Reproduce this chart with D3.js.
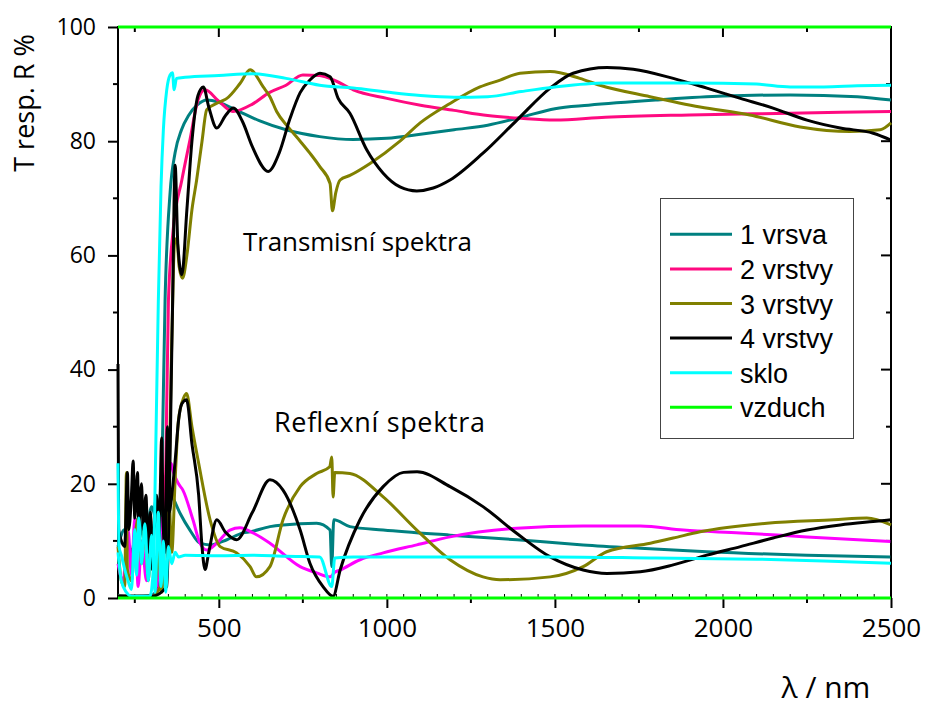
<!DOCTYPE html>
<html>
<head>
<meta charset="utf-8">
<script src="https://cdn.jsdelivr.net/npm/d3@7"></script>
<style>
  body { margin: 0; background: #fff; }
  svg { display: block; }
</style>
</head>
<body>
<div id="chart"></div>
<script>
// wavelength range (nm) and value range (%)
var X_DOMAIN = [200, 2500];
var Y_DOMAIN = [0, 100];
var X_TICKS = [500, 1000, 1500, 2000, 2500];
var Y_TICKS = [0, 20, 40, 60, 80, 100];

var seriesNames = ["1 vrsva", "2 vrstvy", "3 vrstvy", "4 vrstvy", "sklo", "vzduch"];
var seriesColors = ["#008080", "#ff0a80", "#808000", "#000000", "#00ffff", "#00ff00"];
var reflColors = ["#008080", "#ff00ff", "#808000", "#000000", "#00ffff", "#00ff00"];

// transmission spectra [nm, %]
var T1 = [[200,0.5],[250,0.3],[300,0.5],[320,2],[330,20],[340,52],[355,71],[370,78],[389,82],[410,84.5],[435,86.3],[465,87.2],[500,86.8],[550,85.5],[620,83.6],[700,82],[800,80.8],[900,80.3],[1000,80.5],[1100,81.2],[1200,82],[1300,82.8],[1400,84.2],[1500,85.7],[1600,86.3],[1800,87.2],[2000,87.9],[2200,88.1],[2400,87.8],[2500,87.2]];
var T2 = [[200,0.3],[300,0.3],[330,3],[340,15],[350,52],[364,64.4],[390,73.2],[414,80.2],[438,87.2],[459,89],[500,87],[542,85.2],[600,86.5],[650,88.5],[700,89.8],[750,91.6],[800,91.5],[850,90.5],[900,89],[1000,87.5],[1100,86.3],[1200,85.4],[1300,84.5],[1400,84],[1500,83.7],[1650,84.2],[1900,84.6],[2200,84.9],[2500,85.2]];
var T3 = [[200,0.3],[300,0.3],[345,5],[360,45],[368,62],[375,63],[382,58],[392,56],[405,60],[420,68],[434,73.2],[450,80],[464,85.5],[504,86.9],[524,87.5],[563,90.1],[593,92.5],[632,89.5],[652,87.8],[672,85.2],[706,82.5],[742,80],[771,77.9],[801,75.5],[831,72.6],[838,67.8],[848,71],[861,73.2],[890,74],[950,76.1],[1039,80],[1099,83.2],[1188,86.6],[1277,89.5],[1337,90.7],[1396,91.9],[1486,92.2],[1574,91],[1634,89.8],[1783,87.8],[1932,86],[2080,84.6],[2230,82.5],[2378,81.7],[2468,82],[2500,83.2]];
var T4 = [[200,0.3],[300,0.3],[345,2],[362,50],[370,75.8],[378,62],[390,56.6],[405,68],[420,80],[438,88],[454,89.5],[470,86],[494,82.3],[520,84.5],[543,85.8],[570,83.5],[600,79],[647,74.7],[680,78],[712,84],[742,88.5],[771,90.7],[801,91.9],[831,91.3],[855,87.5],[890,84.9],[940,78.5],[989,74.4],[1039,72],[1089,71.3],[1138,71.8],[1188,73.2],[1286,77.9],[1387,83.7],[1486,89.3],[1554,91.9],[1655,92.9],[1733,92.6],[1852,91],[1952,89.3],[2052,87.5],[2149,85.8],[2250,83.7],[2349,82.3],[2447,81.4],[2500,80.2]];
var T5 = [[200,8],[210,3],[225,1],[240,0.3],[295,0.3],[305,5],[312,25],[320,52],[328,72],[335,82],[345,89],[355,91.6],[362,92],[367,89],[374,91],[400,91.2],[500,91.5],[600,91.8],[700,91],[800,89.8],[900,89.3],[1000,88.6],[1100,88],[1200,87.7],[1300,87.8],[1400,88.7],[1500,89.5],[1650,90.2],[1900,90.2],[2100,90],[2200,89.5],[2300,89.5],[2400,89.7],[2500,89.8]];
var T6 = [[200,100],[2500,100]];

// reflection spectra [nm, %]
var R1 = [[200,9],[220,12],[240,8],[260,14],[280,10],[300,16],[320,12],[330,22],[340,20],[360,18],[385,14.8],[414,11.9],[444,9.6],[474,9.3],[524,10.2],[572,11.4],[593,11.6],[652,12.5],[691,12.8],[791,13.1],[831,11.9],[836,5.5],[842,13.7],[890,12.5],[989,11.9],[1188,11],[1387,10.2],[1456,9.9],[1584,9.3],[1754,8.7],[1952,8.1],[2250,7.5],[2498,7.2]];
var R2 = [[200,6],[215,3],[230,12],[240,4],[250,14],[260,2],[270,10],[285,3],[300,9],[315,2],[330,14],[340,8],[350,20],[358,23.6],[365,22],[380,20],[393,18.9],[423,13.7],[444,9.6],[464,8.4],[494,9.6],[533,11.9],[563,12.3],[602,11.4],[652,9.6],[742,5.5],[791,4.4],[831,3.7],[845,4.5],[861,4.9],[920,6.7],[989,7.9],[1089,9.3],[1188,10.7],[1387,12.2],[1584,12.6],[1754,12.6],[1882,11.9],[2052,11.4],[2250,10.7],[2498,9.9]];
var R3 = [[200,9],[210,3],[220,2],[225,22],[228,5],[240,3],[250,10],[260,14],[270,6],[280,13],[290,3],[300,12],[310,2],[320,8],[330,1],[340,12],[350,20],[360,8],[370,20.7],[380,31.2],[395,35],[404,35.8],[420,30],[440,23.6],[474,13.7],[504,9],[553,7.9],[593,5.5],[612,3.7],[652,5.5],[691,13.7],[742,19.5],[791,21.8],[830,23],[836,24.7],[840,17.7],[845,22],[890,21.8],[989,17.7],[1089,11.9],[1188,6.7],[1286,3.7],[1337,3.2],[1486,3.7],[1584,5.5],[1654,8.1],[1784,9.6],[1852,10.5],[1932,11.6],[2131,13.1],[2330,13.7],[2428,14],[2500,12.8]];
var R4 = [[200,41],[202,12],[210,10],[220,9],[228,22],[232,12],[240,18],[245,24],[250,14],[258,22],[262,13],[270,20],[275,12],[283,18],[290,8],[296,15],[302,5],[308,14],[315,18],[322,10],[330,28],[335,12],[340,8],[347,30],[352,15],[360,18],[370,24],[380,31],[390,34],[404,34.7],[420,27],[440,18],[450,9],[459,5],[470,8],[494,13.7],[520,11.5],[553,10.2],[600,15],[652,20.7],[691,18.9],[742,11.9],[771,6.1],[810,2],[840,0.3],[861,4.9],[920,13.7],[989,19.5],[1050,22],[1090,22.1],[1188,19.5],[1286,16],[1387,11.3],[1486,7.2],[1584,4.9],[1655,4.3],[1754,4.6],[1852,5.8],[1952,7.5],[2052,9],[2149,10.5],[2250,11.9],[2349,12.8],[2447,13.4],[2500,13.7]];
var R5 = [[200,23.6],[203,9],[210,7.5],[220,5],[230,3],[240,1.5],[250,12],[255,4],[262,14],[270,6],[280,13],[290,3],[300,11],[310,1],[320,15],[328,2],[335,10],[342,1],[350,9],[360,6],[370,8],[380,7.2],[400,7.5],[500,7.4],[600,7.5],[700,7.3],[800,7.2],[836,2],[845,7],[900,7.2],[1200,7.2],[1500,7.2],[1800,7],[2100,6.8],[2300,6.5],[2500,6.1]];
var R6 = [[200,0],[2500,0]];

var transSeries = [T1, T2, T3, T4, T5, T6];
var reflSeries = [R1, R2, R3, R4, R5, R6];

var width = 925, height = 706;
var plotLeft = 118, plotRight = 891, plotTop = 27, plotBottom = 598;

var svg = d3.select("#chart").append("svg")
  .attr("width", width)
  .attr("height", height);

var x = d3.scaleLinear().domain(X_DOMAIN).range([plotLeft, plotRight]);
var y = d3.scaleLinear().domain(Y_DOMAIN).range([plotBottom, plotTop]);

var line = d3.line()
  .x(function (d) { return x(d[0]); })
  .y(function (d) { return y(d[1]); })
  .curve(d3.curveMonotoneX);

// frame
svg.append("rect")
  .attr("x", plotLeft).attr("y", plotTop)
  .attr("width", plotRight - plotLeft).attr("height", plotBottom - plotTop)
  .attr("fill", "none").attr("stroke", "#000").attr("stroke-width", 2);

// bottom axis: labelled majors, mid ticks, small inner minors
var xMid = d3.range(250, 2500, 500);
var xMinor = d3.range(200, 2501, 50);
var bottomAxis = svg.append("g").attr("transform", "translate(0," + plotBottom + ")");
bottomAxis.call(d3.axisBottom(x).tickValues(X_TICKS).tickSize(10).tickPadding(11).tickFormat(d3.format("d")))
  .call(function (g) { g.select(".domain").remove(); })
  .call(function (g) { g.selectAll("line").attr("stroke-width", 2); })
  .call(function (g) {
    g.selectAll("text").attr("font-family", "'Open Sans', sans-serif").attr("font-size", 26).attr("fill", "#000");
  });
bottomAxis.selectAll(".mid").data(xMid).enter().append("line")
  .attr("x1", function (d) { return x(d); }).attr("x2", function (d) { return x(d); })
  .attr("y1", 0).attr("y2", 5).attr("stroke", "#000").attr("stroke-width", 2);
bottomAxis.selectAll(".minor").data(xMinor).enter().append("line")
  .attr("x1", function (d) { return x(d); }).attr("x2", function (d) { return x(d); })
  .attr("y1", 0).attr("y2", -4).attr("stroke", "#000").attr("stroke-width", 1);

// top axis: ticks inward
var topAxis = svg.append("g").attr("transform", "translate(0," + plotTop + ")");
topAxis.selectAll(".maj").data(X_TICKS).enter().append("line")
  .attr("x1", function (d) { return x(d); }).attr("x2", function (d) { return x(d); })
  .attr("y1", 0).attr("y2", 10).attr("stroke", "#000").attr("stroke-width", 2);
topAxis.selectAll(".mid").data(xMid).enter().append("line")
  .attr("x1", function (d) { return x(d); }).attr("x2", function (d) { return x(d); })
  .attr("y1", 0).attr("y2", 5).attr("stroke", "#000").attr("stroke-width", 2);

// left axis
var yMid = d3.range(10, 100, 20);
var leftAxis = svg.append("g").attr("transform", "translate(" + plotLeft + ",0)");
leftAxis.call(d3.axisLeft(y).tickValues(Y_TICKS).tickSize(10).tickPadding(12))
  .call(function (g) { g.select(".domain").remove(); })
  .call(function (g) { g.selectAll("line").attr("stroke-width", 2); })
  .call(function (g) {
    g.selectAll("text").attr("font-family", "'Open Sans', sans-serif").attr("font-size", 23).attr("fill", "#000");
  });
leftAxis.selectAll(".mid").data(yMid).enter().append("line")
  .attr("y1", function (d) { return y(d); }).attr("y2", function (d) { return y(d); })
  .attr("x1", 0).attr("x2", -5).attr("stroke", "#000").attr("stroke-width", 2);

// right axis: ticks inward
var rightAxis = svg.append("g").attr("transform", "translate(" + plotRight + ",0)");
rightAxis.selectAll(".maj").data(Y_TICKS).enter().append("line")
  .attr("y1", function (d) { return y(d); }).attr("y2", function (d) { return y(d); })
  .attr("x1", 0).attr("x2", -10).attr("stroke", "#000").attr("stroke-width", 2);
rightAxis.selectAll(".mid").data(yMid).enter().append("line")
  .attr("y1", function (d) { return y(d); }).attr("y2", function (d) { return y(d); })
  .attr("x1", 0).attr("x2", -5).attr("stroke", "#000").attr("stroke-width", 2);

// spectra
var plot = svg.append("g");
for (var i = 0; i < seriesNames.length; i++) {
  plot.append("path").datum(transSeries[i])
    .attr("d", line).attr("fill", "none")
    .attr("stroke", seriesColors[i]).attr("stroke-width", 3)
    .attr("stroke-linejoin", "round");
  plot.append("path").datum(reflSeries[i])
    .attr("d", line).attr("fill", "none")
    .attr("stroke", reflColors[i]).attr("stroke-width", 3)
    .attr("stroke-linejoin", "round");
}

// annotations
svg.append("text").attr("x", 243).attr("y", 251)
  .attr("font-family", "'Open Sans', sans-serif").attr("font-size", 26)
  .attr("textLength", 229).attr("lengthAdjust", "spacing")
  .text("Transmisní spektra");
svg.append("text").attr("x", 274).attr("y", 432)
  .attr("font-family", "'Open Sans', sans-serif").attr("font-size", 27)
  .attr("textLength", 211).attr("lengthAdjust", "spacing")
  .text("Reflexní spektra");

// axis titles
svg.append("text").attr("x", 826).attr("y", 698)
  .attr("text-anchor", "middle")
  .attr("font-family", "'Open Sans', sans-serif").attr("font-size", 30)
  .text("λ / nm");
svg.append("text")
  .attr("transform", "translate(34,103) rotate(-90)")
  .attr("text-anchor", "middle")
  .attr("font-family", "'Open Sans', sans-serif").attr("font-size", 27)
  .text("T resp. R %");

// legend
var legend = svg.append("g");
legend.append("rect")
  .attr("x", 660.5).attr("y", 198.5).attr("width", 193).attr("height", 240)
  .attr("fill", "#fff").attr("stroke", "#444").attr("stroke-width", 1);
var rows = legend.selectAll(".row").data(seriesNames).enter().append("g")
  .attr("transform", function (d, i) { return "translate(0," + (234.3 + i * 34.6) + ")"; });
rows.append("line")
  .attr("x1", 670).attr("x2", 732).attr("y1", 0).attr("y2", 0)
  .attr("stroke", function (d, i) { return seriesColors[i]; })
  .attr("stroke-width", 3);
rows.append("text")
  .attr("x", 740).attr("y", 10)
  .attr("font-family", "'Liberation Sans', Arial, sans-serif").attr("font-size", 27)
  .text(function (d) { return d; });
</script>
</body>
</html>
